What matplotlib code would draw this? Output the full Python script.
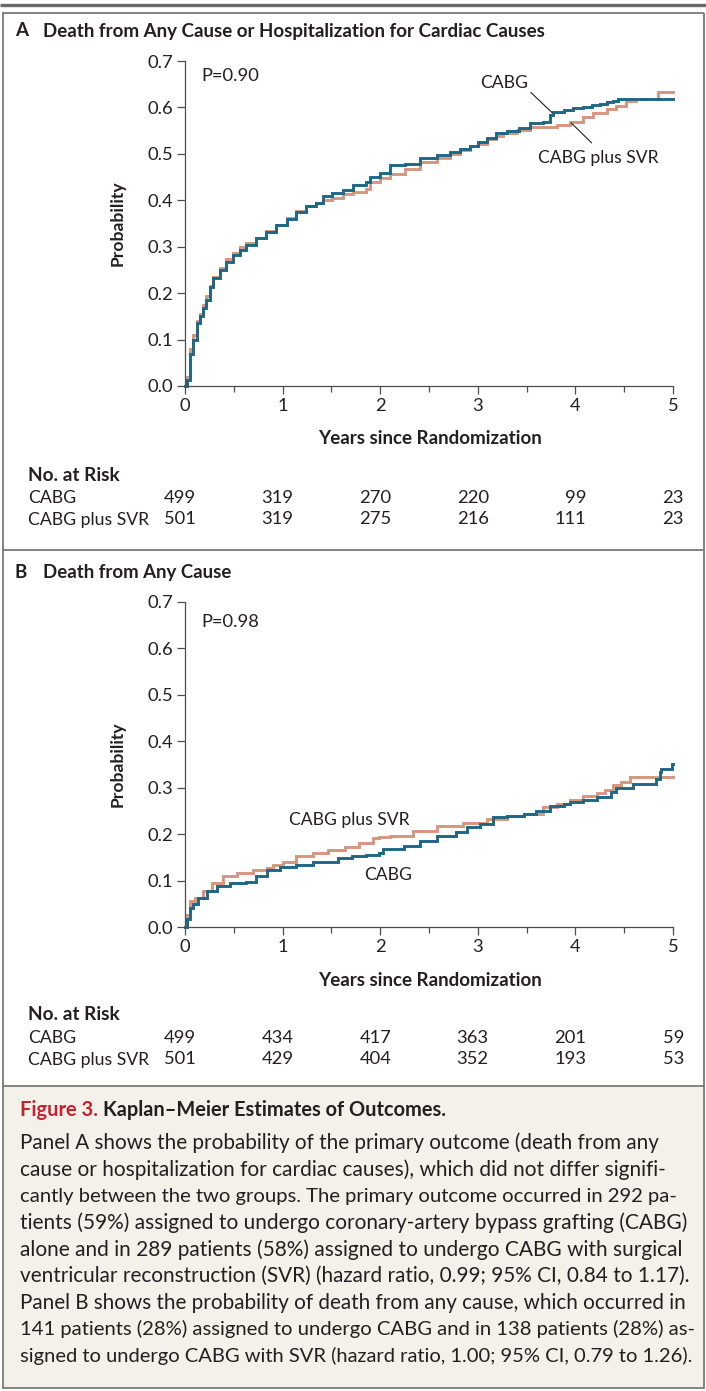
import matplotlib
matplotlib.use('Agg')
import matplotlib.pyplot as plt
from matplotlib.lines import Line2D
from matplotlib.patches import Rectangle
from matplotlib.ticker import MultipleLocator, FixedLocator
import matplotlib.transforms as mtrans

# ---------------- data ----------------
yticks = [0.0, 0.1, 0.2, 0.3, 0.4, 0.5, 0.6, 0.7]
xticks = [0, 1, 2, 3, 4, 5]

a_cabg_t = [0, 0.017, 0.05, 0.085, 0.12, 0.153, 0.187, 0.22, 0.255, 0.29, 0.357, 0.425, 0.49, 0.56,
            0.63, 0.73, 0.83, 0.935, 1.04, 1.14, 1.24, 1.34, 1.41, 1.51, 1.62, 1.72, 1.85, 1.9, 2.0,
            2.1, 2.25, 2.41, 2.58, 2.72, 2.82, 2.92, 3.0, 3.09, 3.19, 3.3, 3.42, 3.535, 3.67, 3.74,
            3.77, 3.88, 3.98, 4.08, 4.17, 4.25, 4.32, 4.39, 4.44, 5.0]
a_cabg_p = [0, 0.014, 0.07, 0.10, 0.136, 0.15, 0.168, 0.186, 0.214, 0.232, 0.25, 0.268, 0.282, 0.293,
            0.304, 0.318, 0.332, 0.346, 0.36, 0.375, 0.387, 0.394, 0.409, 0.416, 0.423, 0.432, 0.44,
            0.45, 0.458, 0.475, 0.479, 0.492, 0.498, 0.504, 0.51, 0.518, 0.525, 0.535, 0.545, 0.55,
            0.555, 0.567, 0.568, 0.583, 0.59, 0.594, 0.598, 0.601, 0.605, 0.608, 0.611, 0.614, 0.619, 0.619]

a_svr_t = [0, 0.017, 0.05, 0.085, 0.12, 0.153, 0.187, 0.22, 0.255, 0.29, 0.357, 0.425, 0.49, 0.56,
           0.63, 0.73, 0.83, 0.935, 1.04, 1.14, 1.24, 1.34, 1.41, 1.51, 1.62, 1.72, 1.85, 1.9, 2.0,
           2.1, 2.25, 2.41, 2.58, 2.72, 2.82, 2.92, 3.0, 3.09, 3.19, 3.26, 3.4, 3.535, 3.81, 3.94,
           4.08, 4.18, 4.32, 4.42, 4.52, 4.62, 4.85, 5.0]
a_svr_p = [0, 0.02, 0.08, 0.11, 0.14, 0.155, 0.175, 0.193, 0.216, 0.235, 0.255, 0.273, 0.287, 0.3,
           0.308, 0.318, 0.333, 0.347, 0.362, 0.377, 0.388, 0.395, 0.401, 0.406, 0.414, 0.418, 0.425,
           0.439, 0.447, 0.457, 0.468, 0.482, 0.492, 0.5, 0.508, 0.516, 0.522, 0.531, 0.538, 0.544,
           0.552, 0.557, 0.562, 0.569, 0.58, 0.588, 0.597, 0.604, 0.614, 0.619, 0.634, 0.634]

b_cabg_t = [0, 0.017, 0.05, 0.085, 0.136, 0.222, 0.324, 0.46, 0.63, 0.73, 0.84, 0.97, 1.14, 1.31,
            1.47, 1.57, 1.71, 1.85, 1.99, 2.03, 2.24, 2.41, 2.58, 2.78, 2.89, 3.02, 3.16, 3.3, 3.47,
            3.6, 3.74, 3.88, 3.94, 4.08, 4.22, 4.36, 4.42, 4.59, 4.83, 4.87, 4.88, 4.99, 5.0]
b_cabg_p = [0, 0.017, 0.042, 0.049, 0.063, 0.077, 0.088, 0.095, 0.098, 0.109, 0.123, 0.13, 0.134,
            0.139, 0.141, 0.148, 0.152, 0.155, 0.159, 0.168, 0.175, 0.186, 0.197, 0.204, 0.215, 0.222,
            0.236, 0.24, 0.243, 0.249, 0.261, 0.264, 0.27, 0.274, 0.281, 0.29, 0.3, 0.307, 0.319,
            0.333, 0.34, 0.351, 0.351]

b_svr_t = [0, 0.017, 0.05, 0.1, 0.188, 0.273, 0.39, 0.53, 0.7, 0.84, 0.9, 1.0, 1.14, 1.31, 1.47,
           1.64, 1.78, 1.93, 1.99, 2.1, 2.34, 2.58, 2.85, 3.09, 3.3, 3.47, 3.67, 3.81, 3.94, 4.08,
           4.22, 4.3, 4.39, 4.47, 4.56, 5.0]
b_svr_p = [0, 0.025, 0.056, 0.063, 0.077, 0.095, 0.109, 0.116, 0.123, 0.127, 0.134, 0.141, 0.152,
           0.159, 0.166, 0.173, 0.18, 0.191, 0.194, 0.197, 0.207, 0.218, 0.225, 0.232, 0.24, 0.243,
           0.258, 0.264, 0.273, 0.282, 0.288, 0.296, 0.305, 0.312, 0.324, 0.324]

risk_groups = ['CABG', 'CABG plus SVR']
a_risk_cabg = [499, 319, 270, 220, 99, 23]
a_risk_svr = [501, 319, 275, 216, 111, 23]
b_risk_cabg = [499, 434, 417, 363, 201, 59]
b_risk_svr = [501, 429, 404, 352, 193, 53]

caption_title = ['Figure 3.', 'Kaplan\u2013Meier Estimates of Outcomes.']
caption_lines = [
    "Panel A shows the probability of the primary outcome (death from any",
    "cause or hospitalization for cardiac causes), which did not differ signifi-",
    "cantly between the two groups. The primary outcome occurred in 292 pa-",
    "tients (59%) assigned to undergo coronary-artery bypass grafting (CABG)",
    "alone and in 289 patients (58%) assigned to undergo CABG with surgical",
    "ventricular reconstruction (SVR) (hazard ratio, 0.99; 95% CI, 0.84 to 1.17).",
    "Panel B shows the probability of death from any cause, which occurred in",
    "141 patients (28%) assigned to undergo CABG and in 138 patients (28%) as-",
    "signed to undergo CABG with SVR (hazard ratio, 1.00; 95% CI, 0.79 to 1.26).",
]
caption_right = [655, 664, 677, 684, 679, 688, 681, 692, 690]

# ---------------- style ----------------
W, H = 706, 1391
plt.rcParams['font.family'] = ['Lato', 'DejaVu Sans']
INK = '#231f20'
TEAL = '#1f6787'
SALMON = '#d8957e'
FRAME = '#7a7a7a'
AXC = '#4d4d4d'

fig = plt.figure(figsize=(W / 100, H / 100), dpi=100)
fig.patch.set_facecolor('white')
renderer = fig.canvas.get_renderer()


def fx(x):
    return x / W


def fy(y):
    return 1 - y / H


def hline(y, x0, x1, lw, color):
    fig.add_artist(Line2D([fx(x0), fx(x1)], [fy(y), fy(y)], transform=fig.transFigure,
                          lw=lw, color=color, solid_capstyle='butt'))


def vline(x, y0, y1, lw, color):
    fig.add_artist(Line2D([fx(x), fx(x)], [fy(y0), fy(y1)], transform=fig.transFigure,
                          lw=lw, color=color, solid_capstyle='butt'))


def fit_text(x, y, s, target_w, base=12, **kw):
    t = fig.text(fx(x), fy(y), s, fontsize=base, **kw)
    w = t.get_window_extent(renderer).width
    t.set_fontsize(base * target_w / w)
    return t


# ---------------- frames ----------------
hline(5, 0, W, 2.4, '#6a6a6a')
hline(13, 2, 704, 1.3, FRAME)
vline(2.5, 13, 1086, 1.3, FRAME)
vline(703.5, 13, 1086, 1.3, FRAME)
hline(550, 2, 704, 1.3, FRAME)
fig.add_artist(Rectangle((fx(2.5), fy(1388)), fx(701), (1388 - 1086) / H, transform=fig.transFigure,
                         facecolor='#f4f1eb', edgecolor=FRAME, lw=1.3))

# ---------------- panels ----------------
AX_L, AX_R = 185, 673
RISK_FS = 13.2


def panel(top, bottom, letter, title, title_right, curves, pval, labels, leaders,
          risk_cabg, risk_svr, risk_y):
    ax = fig.add_axes([fx(AX_L), fy(bottom), fx(AX_R) - fx(AX_L), fy(top) - fy(bottom)])
    ax.set_xlim(0, 5)
    ax.set_ylim(0, 0.7)
    for s in ['top', 'right']:
        ax.spines[s].set_visible(False)
    for s in ['left', 'bottom']:
        ax.spines[s].set_color(AXC)
        ax.spines[s].set_linewidth(0.9)
    ax.yaxis.set_major_locator(FixedLocator(yticks))
    ax.set_yticklabels([f'{v:.1f}' for v in yticks])
    ax.xaxis.set_major_locator(FixedLocator(xticks))
    ax.xaxis.set_minor_locator(MultipleLocator(0.5))
    ax.set_xticklabels([str(v) for v in xticks])
    ax.tick_params(axis='both', which='major', direction='out', length=6, width=0.9, color=AXC,
                   labelsize=13.2, labelcolor=INK, pad=2.5)
    ax.tick_params(axis='x', which='minor', direction='out', length=4.5, width=0.9, color=AXC)
    ax.set_facecolor('none')

    for (t, p, c) in curves:
        ax.step(t, p, where='post', color=c, lw=2.1, clip_on=False, solid_joinstyle='miter')

    ax.text(pval[0], pval[1], pval[2], fontsize=13.2, color=INK, ha='left', va='center')
    for (x, y, s) in labels:
        ax.text(x, y, s, fontsize=12.6, color=INK, ha='center', va='center')
    for (x0, y0, x1, y1) in leaders:
        ax.plot([x0, x1], [y0, y1], color=INK, lw=0.8)

    # titles
    fig.text(fx(15), fy(top - 30), letter, fontsize=13.5, fontweight='bold', color=INK,
             ha='left', va='center')
    fit_text(43, top - 30, title, title_right - 43, fontweight='bold', color=INK,
             ha='left', va='center')
    fig.text(fx(118), fy((top + bottom) / 2), 'Probability', rotation=90, fontsize=12.6,
             fontweight='bold', color=INK, ha='center', va='center')
    fit_text(318, bottom + 53, 'Years since Randomization', 223, fontweight='bold', color=INK,
             ha='left', va='center')

    # number at risk
    fit_text(28, risk_y, 'No. at Risk', 91, fontweight='bold', color=INK, ha='left', va='center')
    blended = mtrans.blended_transform_factory(ax.transData, fig.transFigure)
    shifted = mtrans.offset_copy(blended, fig=fig, x=11, y=0, units='dots')
    name_fs = None
    rows = list(zip(risk_groups, [risk_cabg, risk_svr]))
    for row, (name, vals) in enumerate(rows):
        yy = risk_y + 23 + row * 21.5
        if row == 1:
            tt = fit_text(28, yy, name, 121, color=INK, ha='left', va='center')
            name_fs = tt.get_fontsize()
        for xv, v in zip(xticks, vals):
            fig.text(xv, fy(yy), str(v), fontsize=RISK_FS, color=INK, ha='right', va='center',
                     transform=shifted)
    fig.text(fx(28), fy(risk_y + 23), rows[0][0], fontsize=name_fs, color=INK, ha='left',
             va='center')
    return ax


panel(61, 386, 'A', 'Death from Any Cause or Hospitalization for Cardiac Causes', 543,
      [(a_svr_t, a_svr_p, SALMON), (a_cabg_t, a_cabg_p, TEAL)],
      (0.17, 0.668, 'P=0.90'),
      [(3.27, 0.652, 'CABG'), (4.23, 0.491, 'CABG plus SVR')],
      [(3.545, 0.632, 3.76, 0.589), (3.96, 0.566, 4.165, 0.524)],
      a_risk_cabg, a_risk_svr, 475)

panel(602, 927, 'B', 'Death from Any Cause', 230,
      [(b_svr_t, b_svr_p, SALMON), (b_cabg_t, b_cabg_p, TEAL)],
      (0.17, 0.657, 'P=0.98'),
      [(1.68, 0.231, 'CABG plus SVR'), (2.08, 0.112, 'CABG')],
      [],
      b_risk_cabg, b_risk_svr, 1015)

# ---------------- caption ----------------
t1 = fig.text(fx(20), fy(1110), caption_title[0] + ' ', fontsize=14.4, fontweight='bold',
              color='#c8202f', ha='left', va='center')
w1 = t1.get_window_extent(renderer).width
fig.text(fx(20 + w1), fy(1110), caption_title[1], fontsize=14.4, fontweight='bold', color=INK,
         ha='left', va='center')
for i, (line, right) in enumerate(zip(caption_lines, caption_right)):
    fit_text(20, 1143 + i * 26.6, line, right - 20, base=13, color=INK, ha='left', va='center')

fig.savefig('out.png', dpi=100, facecolor='white')
